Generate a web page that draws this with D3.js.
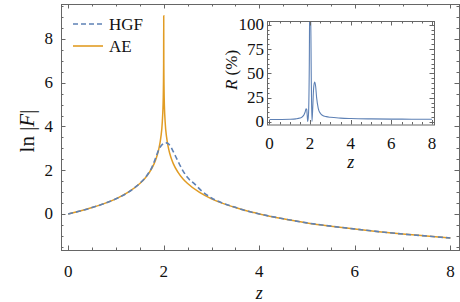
<!DOCTYPE html>
<html>
<head>
<meta charset="utf-8">
<script src="https://cdn.jsdelivr.net/npm/d3@7"></script>
<style>
    body { margin: 0; background: #fff; }
</style>
</head>
<body>
<div id="chart"></div>
<script>
"use strict";

// main panel: ln|F| against z
const zAE = [0, 0.25, 0.5, 0.75, 1.0, 1.25, 1.5, 1.6, 1.7, 1.8, 1.85, 1.9, 1.94, 1.97, 1.99, 1.998, 2.0,
    2.002, 2.01, 2.03, 2.06, 2.1, 2.15, 2.2, 2.3, 2.4, 2.5, 2.75, 3.0, 3.25, 3.5, 3.75, 4.0,
    4.5, 5.0, 5.5, 6.0, 6.5, 7.0, 7.5, 8.0];
const lnAE = [0, 0.13, 0.29, 0.47, 0.69, 0.98, 1.39, 1.61, 1.90, 2.30, 2.59, 3.00, 3.51, 4.20, 5.30, 6.90, 9.06,
    6.90, 5.30, 4.20, 3.51, 3.00, 2.59, 2.30, 1.90, 1.61, 1.39, 0.98, 0.69, 0.47, 0.29, 0.13, 0,
    -0.22, -0.41, -0.56, -0.69, -0.81, -0.92, -1.01, -1.10];

const zHGF = [0, 0.25, 0.5, 0.75, 1.0, 1.25, 1.5, 1.6, 1.7, 1.75, 1.8, 1.85, 1.9, 1.95, 2.0, 2.05, 2.1,
    2.15, 2.2, 2.3, 2.4, 2.5, 2.65, 2.8, 3.0, 3.25, 3.5, 3.75, 4.0, 4.5, 5.0, 5.5, 6.0, 6.5, 7.0, 7.5, 8.0];
const lnHGF = [0, 0.13, 0.29, 0.47, 0.69, 0.98, 1.40, 1.62, 1.93, 2.12, 2.38, 2.68, 2.95, 3.13, 3.22, 3.25, 3.20,
    3.06, 2.85, 2.40, 1.98, 1.66, 1.36, 1.04, 0.73, 0.48, 0.30, 0.13, 0,
    -0.22, -0.41, -0.56, -0.69, -0.81, -0.92, -1.01, -1.10];

// inset: R (%) against z
const zR = [0, 0.5, 1.0, 1.3, 1.5, 1.6, 1.7, 1.75, 1.8, 1.83, 1.86, 1.88, 1.92, 1.96, 1.98, 2.02, 2.06, 2.09,
    2.13, 2.17, 2.22, 2.27, 2.32, 2.4, 2.5, 2.6, 2.8, 3.0, 3.5, 4.0, 5.0, 6.0, 7.0, 8.0];
const valR = [2.5, 2.6, 2.8, 3.2, 4.0, 5.0, 7.5, 10, 13.5, 13, 6, 0.5, 8, 60, 120, 120, 40, 0.5,
    15, 34, 41, 37, 25, 14, 9, 7, 5.5, 4.8, 4.0, 3.6, 3.2, 3.0, 2.9, 2.8];

const mainXTicks = [0, 2, 4, 6, 8];
const mainYTicks = [0, 2, 4, 6, 8];
const insetXTicks = [0, 2, 4, 6, 8];
const insetYTicks = [0, 25, 50, 75, 100];

const seriesNames = ["HGF", "AE"];
const blue = "#5e81b5";
const orange = "#e19c24";
const frameColor = "#666";
const serif = "'Liberation Serif', 'Times New Roman', serif";

const width = 460, height = 302;

const svg = d3.select("#chart").append("svg")
    .attr("width", width)
    .attr("height", height)
    .attr("font-family", serif);

// draws a mathematica style frame with inward ticks on all four sides
function drawFrame(g, x, y, major, minor, majorY, minorY) {
    const [x0, x1] = x.range();
    const [y0, y1] = y.range();
    g.append("rect")
        .attr("x", x0 + 0.5).attr("y", y1 + 0.5)
        .attr("width", x1 - x0).attr("height", y0 - y1)
        .attr("fill", "none")
        .attr("stroke", frameColor)
        .attr("stroke-width", 1);

    const ticks = g.append("g").attr("stroke", frameColor).attr("stroke-width", 1);
    const addX = (vals, len) => vals.forEach(v => {
        const px = Math.round(x(v)) + 0.5;
        ticks.append("line").attr("x1", px).attr("x2", px).attr("y1", y0).attr("y2", y0 - len);
        ticks.append("line").attr("x1", px).attr("x2", px).attr("y1", y1).attr("y2", y1 + len);
    });
    const addY = (vals, len) => vals.forEach(v => {
        const py = Math.round(y(v)) + 0.5;
        ticks.append("line").attr("y1", py).attr("y2", py).attr("x1", x0).attr("x2", x0 + len);
        ticks.append("line").attr("y1", py).attr("y2", py).attr("x1", x1).attr("x2", x1 - len);
    });
    addX(major, 4.5);
    addX(minor, 2.5);
    addY(majorY, 4.5);
    addY(minorY, 2.5);
}

function minorTicks(lo, hi, step, major) {
    const out = [];
    for (let v = lo; v <= hi + 1e-9; v += step) {
        const r = Math.round(v * 1000) / 1000;
        if (!major.includes(r)) out.push(r);
    }
    return out;
}

// ---------- main panel ----------
const x = d3.scaleLinear().domain([-0.15, 8.18]).range([61, 459]);
const y = d3.scaleLinear().domain([-1.65, 9.6]).range([250, 4]);

const main = svg.append("g");

svg.append("clipPath").attr("id", "clipMain")
    .append("rect").attr("x", 61).attr("y", 4).attr("width", 398).attr("height", 246);

const line = d3.line()
    .x(d => x(d[0]))
    .y(d => y(d[1]))
    .curve(d3.curveMonotoneX);

main.append("path")
    .datum(d3.zip(zAE, lnAE))
    .attr("clip-path", "url(#clipMain)")
    .attr("d", line)
    .attr("fill", "none")
    .attr("stroke", orange)
    .attr("stroke-width", 1.5);

main.append("path")
    .datum(d3.zip(zHGF, lnHGF))
    .attr("clip-path", "url(#clipMain)")
    .attr("d", line)
    .attr("fill", "none")
    .attr("stroke", blue)
    .attr("stroke-width", 1.6)
    .attr("stroke-dasharray", "5,3");

drawFrame(main, x, y, mainXTicks, minorTicks(-0.5, 8, 0.5, mainXTicks).filter(v => v >= 0),
    mainYTicks, minorTicks(-1.5, 9.5, 0.5, mainYTicks));

main.selectAll(".xl").data(mainXTicks).enter().append("text")
    .attr("x", d => x(d))
    .attr("y", 277)
    .attr("text-anchor", "middle")
    .attr("font-size", 17)
    .attr("fill", "#111")
    .text(d => d);

main.selectAll(".yl").data(mainYTicks).enter().append("text")
    .attr("x", 53)
    .attr("y", d => y(d) + 5.5)
    .attr("text-anchor", "end")
    .attr("font-size", 17)
    .attr("fill", "#111")
    .text(d => d);

main.append("text")
    .attr("x", x(4))
    .attr("y", 299)
    .attr("text-anchor", "middle")
    .attr("font-size", 18)
    .attr("font-style", "italic")
    .attr("fill", "#111")
    .text("z");

const yLab = main.append("text")
    .attr("transform", "translate(34,131) rotate(-90)")
    .attr("text-anchor", "middle")
    .attr("font-size", 21)
    .attr("fill", "#111");
yLab.append("tspan").text("ln |");
yLab.append("tspan").attr("font-style", "italic").text("F");
yLab.append("tspan").text("|");

// legend
const legend = main.append("g");
seriesNames.forEach((name, i) => {
    const ly = 24 + i * 22;
    legend.append("line")
        .attr("x1", 73).attr("x2", 103)
        .attr("y1", ly).attr("y2", ly)
        .attr("stroke", i === 0 ? blue : orange)
        .attr("stroke-width", 1.6)
        .attr("stroke-dasharray", i === 0 ? "5,3" : null);
    legend.append("text")
        .attr("x", 109)
        .attr("y", ly + 5.5)
        .attr("font-size", 17)
        .attr("fill", "#111")
        .text(name);
});

// ---------- inset ----------
const xi = d3.scaleLinear().domain([-0.123, 8.099]).range([267, 434]);
const yi = d3.scaleLinear().domain([-2.57, 103.8]).range([124.5, 21]);

const inset = svg.append("g");
inset.append("rect")
    .attr("x", 267).attr("y", 21)
    .attr("width", 167).attr("height", 103.5)
    .attr("fill", "#fff");

svg.append("clipPath").attr("id", "clipInset")
    .append("rect").attr("x", 267).attr("y", 21).attr("width", 167).attr("height", 103.5);

inset.append("path")
    .datum(d3.zip(zR, valR))
    .attr("clip-path", "url(#clipInset)")
    .attr("d", d3.line().x(d => xi(d[0])).y(d => yi(d[1])).curve(d3.curveMonotoneX))
    .attr("fill", "none")
    .attr("stroke", blue)
    .attr("stroke-width", 1.1);

drawFrame(inset, xi, yi, insetXTicks, minorTicks(0, 8, 0.5, insetXTicks),
    insetYTicks, minorTicks(0, 100, 5, insetYTicks));

inset.selectAll(".xl").data(insetXTicks).enter().append("text")
    .attr("x", d => xi(d))
    .attr("y", 149)
    .attr("text-anchor", "middle")
    .attr("font-size", 17)
    .attr("fill", "#111")
    .text(d => d);

inset.selectAll(".yl").data(insetYTicks).enter().append("text")
    .attr("x", 264)
    .attr("y", d => yi(d) + 5.5)
    .attr("text-anchor", "end")
    .attr("font-size", 17)
    .attr("fill", "#111")
    .text(d => d);

inset.append("text")
    .attr("x", xi(4))
    .attr("y", 168)
    .attr("text-anchor", "middle")
    .attr("font-size", 18)
    .attr("font-style", "italic")
    .attr("fill", "#111")
    .text("z");

const rLab = inset.append("text")
    .attr("transform", "translate(237,70) rotate(-90)")
    .attr("text-anchor", "middle")
    .attr("font-size", 17)
    .attr("fill", "#111");
rLab.append("tspan").attr("font-style", "italic").text("R");
rLab.append("tspan").text(" (%)");
</script>
</body>
</html>
